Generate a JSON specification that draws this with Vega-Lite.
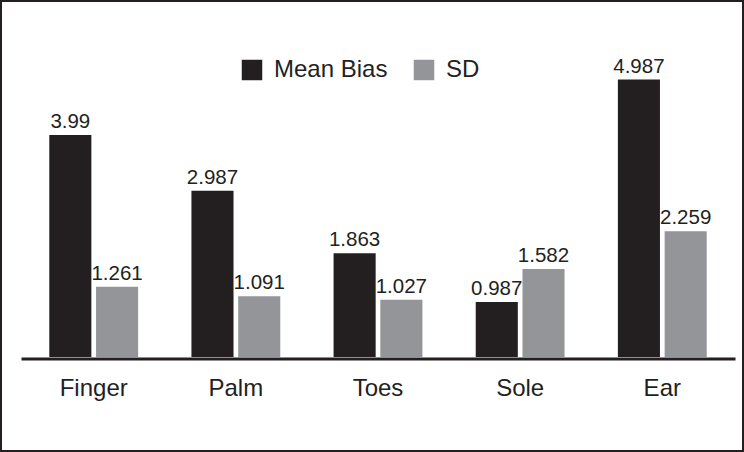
{
  "$schema": "https://vega.github.io/schema/vega-lite/v6.json",
  "width": 744,
  "height": 452,
  "autosize": {"type": "none"},
  "padding": 0,
  "background": "white",
  "config": {
    "view": {"stroke": "#231f20", "strokeWidth": 4},
    "font": "Liberation Sans"
  },
  "data": {
    "values": [
      {"part": "Finger", "series": "Mean Bias", "value": 3.99},
      {"part": "Finger", "series": "SD", "value": 1.261},
      {"part": "Palm", "series": "Mean Bias", "value": 2.987},
      {"part": "Palm", "series": "SD", "value": 1.091},
      {"part": "Toes", "series": "Mean Bias", "value": 1.863},
      {"part": "Toes", "series": "SD", "value": 1.027},
      {"part": "Sole", "series": "Mean Bias", "value": 0.987},
      {"part": "Sole", "series": "SD", "value": 1.582},
      {"part": "Ear", "series": "Mean Bias", "value": 4.987},
      {"part": "Ear", "series": "SD", "value": 2.259}
    ]
  },
  "encoding": {
    "x": {
      "field": "part",
      "type": "nominal",
      "sort": ["Finger", "Palm", "Toes", "Sole", "Ear"],
      "scale": {"range": [21, 735], "paddingInner": 0.375, "paddingOuter": 0.199},
      "axis": {
        "title": null,
        "orient": "bottom",
        "offset": -93.5,
        "domainColor": "#231f20",
        "domainWidth": 3,
        "ticks": false,
        "tickSize": 0,
        "grid": false,
        "labelAngle": 0,
        "labelFont": "Liberation Sans",
        "labelFontSize": 24,
        "labelColor": "#231f20",
        "labelBaseline": "alphabetic",
        "labelPadding": 36.5,
        "zindex": 1
      }
    },
    "xOffset": {
      "field": "series",
      "type": "nominal",
      "scale": {"paddingInner": 0.1, "paddingOuter": 0}
    },
    "y": {
      "field": "value",
      "type": "quantitative",
      "scale": {"domain": [0, 5.5], "range": [357, 51], "nice": false, "zero": true},
      "axis": null
    }
  },
  "layer": [
    {
      "mark": {"type": "bar"},
      "encoding": {
        "color": {
          "field": "series",
          "type": "nominal",
          "scale": {"domain": ["Mean Bias", "SD"], "range": ["#231f20", "#939598"]},
          "legend": {
            "orient": "none",
            "legendX": 240,
            "legendY": 58,
            "direction": "horizontal",
            "title": null,
            "symbolType": "square",
            "symbolSize": 420,
            "symbolStrokeWidth": 0,
            "symbolOpacity": 1,
            "labelFont": "Liberation Sans",
            "labelFontSize": 24,
            "labelColor": "#231f20",
            "labelOffset": 10,
            "columnPadding": 24
          }
        }
      }
    },
    {
      "mark": {"type": "text", "dy": -7, "baseline": "alphabetic", "align": "center", "fontSize": 20.5, "font": "Liberation Sans", "color": "#231f20"},
      "encoding": {
        "text": {"field": "value", "type": "quantitative"}
      }
    }
  ]
}
